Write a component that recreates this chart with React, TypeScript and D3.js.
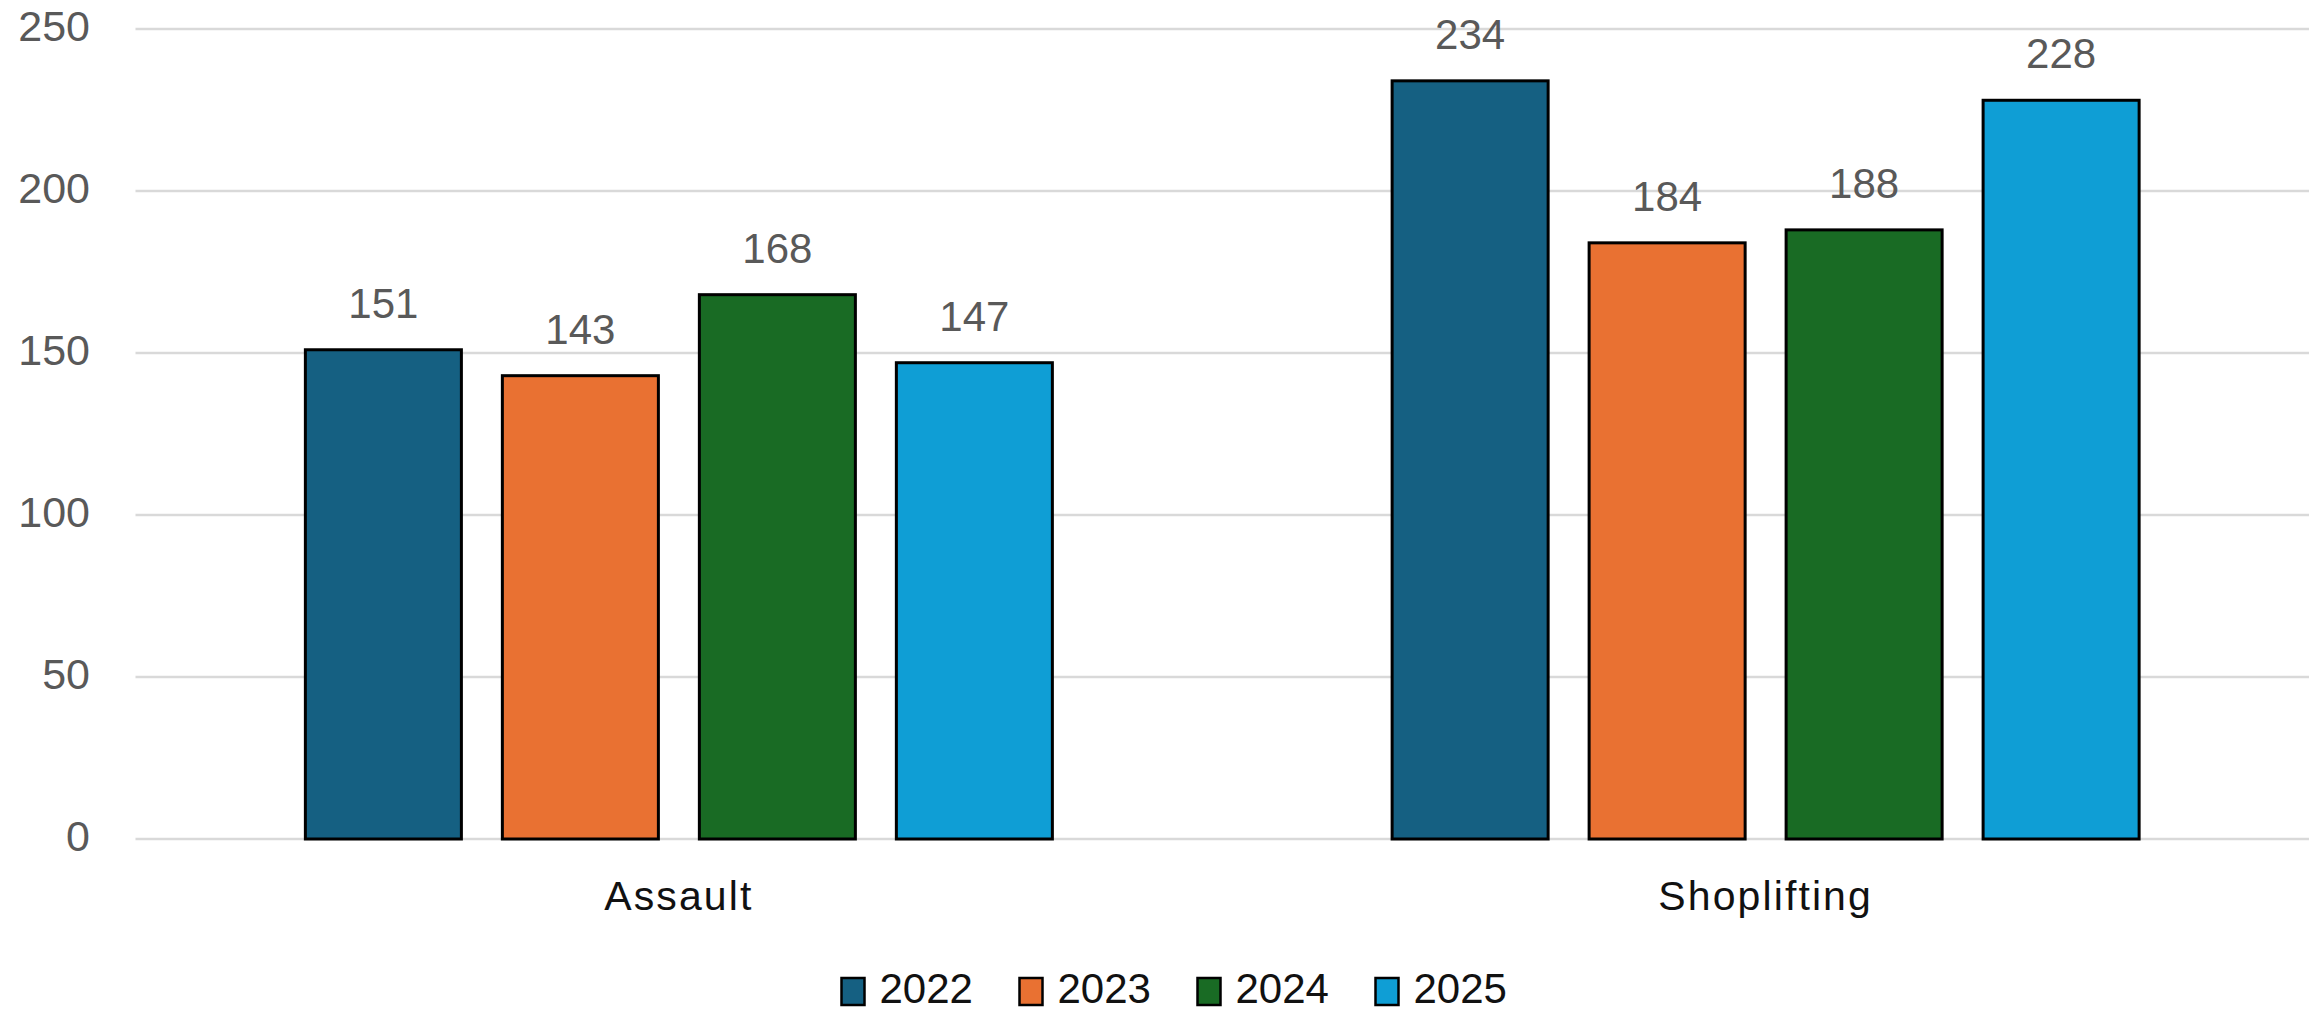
import React from "react";
import * as d3 from "d3";

const categories = ["Assault", "Shoplifting"];
const years = ["2022", "2023", "2024", "2025"];
const values2022 = [151, 234];
const values2023 = [143, 184];
const values2024 = [168, 188];
const values2025 = [147, 228];
const yTicks = [0, 50, 100, 150, 200, 250];
const colors = ["#156082", "#E97132", "#196B24", "#0F9ED5"];

const seriesValues = [values2022, values2023, values2024, values2025];

const W = 2323;
const H = 1012;
const FONT = "'Liberation Sans', Arial, sans-serif";

export default function App() {
  const plotLeft = 135.5;
  const plotRight = 2309;
  const y = d3.scaleLinear().domain([0, 250]).range([839, 29]);
  const x0 = d3.scaleBand<string>().domain(categories).range([plotLeft, plotRight]).padding(0);
  const groupWidth = 747;
  const x1 = d3.scaleBand<string>().domain(years).range([0, groupWidth]).paddingInner(0.208).paddingOuter(0);
  const offset = (x0.bandwidth() - groupWidth) / 2;

  const legendStart = 841.5;
  const legendStep = 178;

  return (
    <svg
      width={W}
      height={H}
      style={{ position: "absolute", left: 0, top: 0, background: "#fff", display: "block" }}
    >
      <rect x={0} y={0} width={W} height={H} fill="#fff" />
      {yTicks.map((t) => (
        <g key={t}>
          <line x1={plotLeft} x2={plotRight} y1={y(t)} y2={y(t)} stroke="#D9D9D9" strokeWidth={2.5} />
          <text
            x={90}
            y={y(t) + 11.5}
            textAnchor="end"
            fontFamily={FONT}
            fontSize={43}
            fill="#595959"
          >
            {t}
          </text>
        </g>
      ))}
      {categories.map((c, ci) => (
        <g key={c}>
          {years.map((yr, si) => {
            const v = seriesValues[si][ci];
            const bx = (x0(c) as number) + offset + (x1(yr) as number);
            const bw = x1.bandwidth();
            return (
              <g key={yr}>
                <rect
                  x={bx}
                  y={y(v)}
                  width={bw}
                  height={y(0) - y(v)}
                  fill={colors[si]}
                  stroke="#000"
                  strokeWidth={3}
                />
                <text
                  x={bx + bw / 2}
                  y={y(v) - 32}
                  textAnchor="middle"
                  fontFamily={FONT}
                  fontSize={42}
                  fill="#595959"
                >
                  {v}
                </text>
              </g>
            );
          })}
          <text
            x={(x0(c) as number) + x0.bandwidth() / 2}
            y={910}
            textAnchor="middle"
            fontFamily={FONT}
            fontSize={41}
            letterSpacing={2.1}
            fill="#111"
          >
            {c}
          </text>
        </g>
      ))}
      {years.map((yr, i) => {
        const lx = legendStart + i * legendStep;
        return (
          <g key={yr}>
            <rect x={lx} y={978} width={23} height={27} fill={colors[i]} stroke="#000" strokeWidth={2.5} />
            <text x={lx + 38} y={1003} fontFamily={FONT} fontSize={42} fill="#111">
              {yr}
            </text>
          </g>
        );
      })}
    </svg>
  );
}
